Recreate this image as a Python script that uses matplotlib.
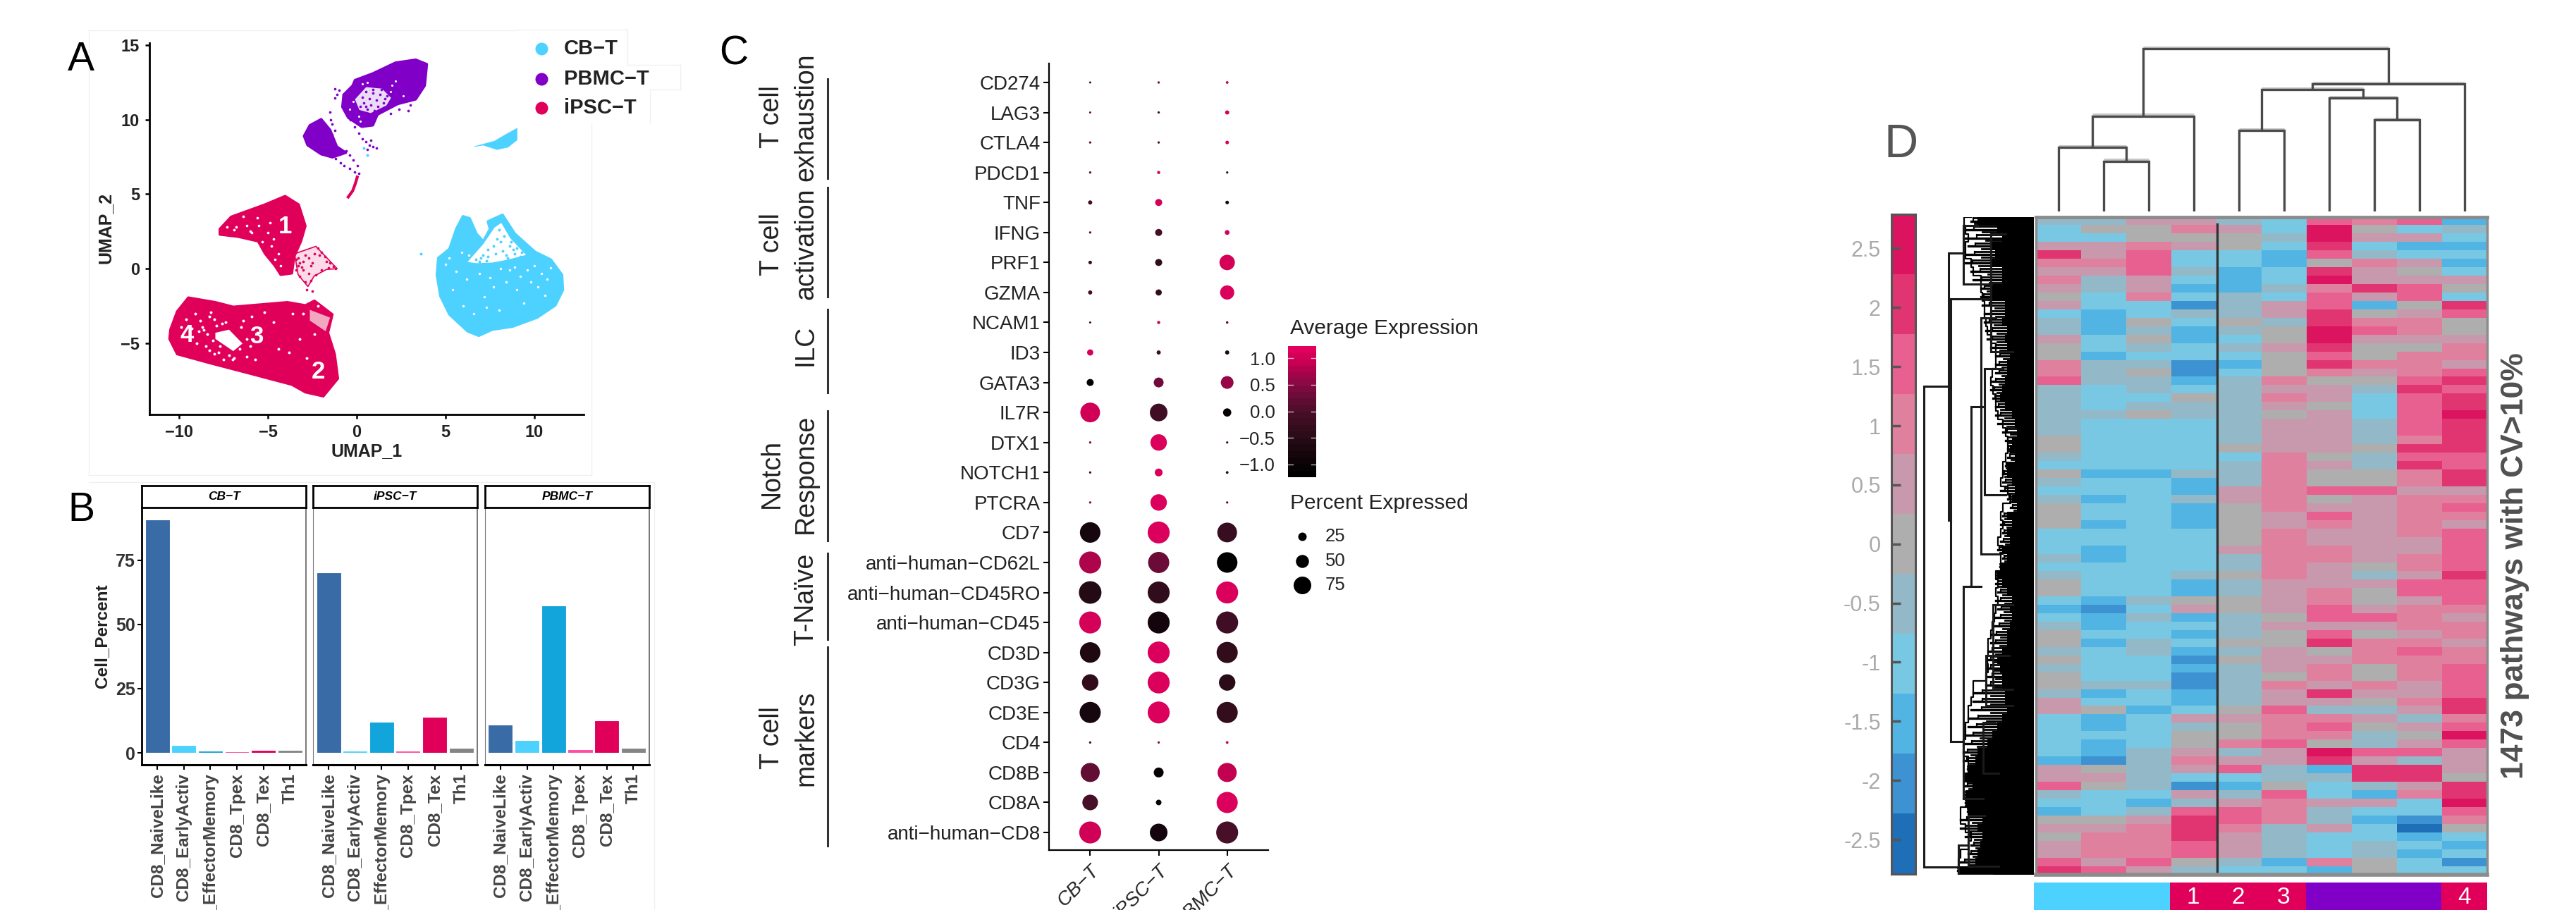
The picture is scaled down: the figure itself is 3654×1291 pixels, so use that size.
import numpy as np
import matplotlib
matplotlib.use('Agg')
import matplotlib.pyplot as plt
from matplotlib.colors import ListedColormap, LinearSegmentedColormap

plt.rcParams['font.family'] = ['Liberation Sans', 'DejaVu Sans']

W, H = 3655, 1291

CYAN = '#4DD2FF'
PURPLE = '#8000C8'
RED = '#E0005A'

# panel A outlines and sparse points
cb_x = [5.98, 6.36, 6.74, 7.12, 7.50, 7.38, 8.21, 8.90, 10.04, 10.93, 11.56, 11.61, 11.18, 10.16, 8.77, 7.63, 6.87, 6.24, 5.22, 4.71, 4.51, 4.59, 5.22, 5.60]
cb_y = [3.52, 3.38, 2.35, 1.84, 2.66, 3.17, 3.62, 2.35, 1.13, 0.61, -0.41, -1.43, -2.46, -3.28, -3.89, -4.09, -4.50, -4.20, -3.07, -1.84, -0.41, 0.72, 1.33, 2.66]
cb_hole_x = [6.24, 7.12, 7.76, 8.14, 8.64, 9.53, 8.52, 7.63, 6.74]
cb_hole_y = [0.45, 1.64, 2.76, 3.07, 2.05, 0.92, 0.61, 0.41, 0.37]
cb_small_x = [6.62, 7.76, 8.40, 9.03, 9.03, 8.52, 7.89, 7.12]
cb_small_y = [8.19, 8.56, 9.01, 9.42, 8.64, 8.15, 7.99, 8.29]
cb_dots_x = [3.6, 7.9, 8.2, 8.6, 7.4, 8.9, 7.0, 8.0, 9.2, 6.7, 0.0, 0.6, 0.4, 7.7, 8.4, 9.0, 6.6, 7.1, 7.4, 7.8, 8.3, 8.7, 7.3, 8.1, 6.9, 9.3, 8.8, 8.5]
cb_dots_y = [1.0, 2.0, 1.2, 1.5, 0.8, 1.0, 0.7, 2.6, 0.8, 0.6, 6.2, 7.6, 8.1, 1.5, 0.9, 1.4, 1.2, 0.9, 1.3, 1.0, 2.2, 1.8, 0.55, 1.8, 0.5, 1.1, 1.3, 0.7]
cb_gap_x = [9.6, 8.9, 10.4, 7.5, 8.1, 6.0, 5.4, 9.0, 10.6, 7.2, 8.4, 5.6, 10.0, 9.4, 8.0, 6.6, 5.9, 5.2, 6.3, 6.9, 7.7, 8.6, 9.8, 10.2, 10.9, 5.0, 6.2, 7.3, 9.2, 10.7]
cb_gap_y = [-0.1, 0.1, -0.3, -0.6, 0.0, -2.5, -1.4, -1.4, -1.8, -1.9, -0.9, -0.2, 0.2, -2.3, -2.8, -3.0, 1.1, 0.7, 0.9, -0.3, -1.2, -0.1, -0.9, -1.2, 0.05, 0.3, -0.7, -2.6, -0.5, -0.7]

pbmc_x = [-0.10, 0.91, 2.18, 3.32, 3.95, 3.83, 3.32, 2.31, 1.17, 0.91, 0.28, -0.48, -0.81, -0.74, -0.23]
pbmc_y = [12.65, 13.10, 13.82, 14.02, 13.72, 12.28, 11.36, 11.05, 10.34, 9.62, 9.52, 10.13, 10.85, 11.67, 12.28]
pbmc_hole_x = [0.53, 1.42, 1.93, 1.67, 0.79, 0.15, -0.10]
pbmc_hole_y = [12.18, 12.08, 11.46, 10.95, 10.44, 10.65, 11.36]
pbmc_lobe_x = [-2.64, -2.0, -1.50, -1.12, -0.61, -1.37, -2.0, -2.77, -2.97]
pbmc_lobe_y = [9.62, 10.03, 9.31, 8.19, 7.78, 7.47, 7.68, 8.29, 8.90]
pbmc_dots_x = [-1.24, -0.99, -1.12, -0.74, -1.24, -1.5, -1.45, -1.4, -1.25, -1.4, -1.3, -1.2, -0.35, -0.1, 0.1, 0.3, 0.5, 0.7, 0.9, 1.1, 0.8, 0.6,
               -1.2, -0.9, -0.7, -0.4, -0.1, 0.05, 0.1, -0.4, -0.6, -0.2, 2.4, 2.9, 3.0, 1.9,
               0.5, 0.9, 1.3, 1.6, 0.3, 0.7, 1.1, 1.5, 0.4, 0.8, 1.2, 0.6, 1.0, 0.2, 1.7, 1.4, 0.9, 0.5]
pbmc_dots_y = [12.08, 11.98, 11.67, 11.67, 11.46, 10.5, 10.0, 9.7, 9.3, 9.0, 8.6, 8.1, 10.0, 9.5, 9.1, 8.7, 8.5, 8.3, 8.2, 8.1, 8.6, 8.0,
               7.4, 7.1, 6.9, 6.7, 6.5, 6.9, 6.4, 7.6, 7.9, 7.3, 10.7, 10.6, 11.0, 10.4,
               11.9, 11.8, 11.7, 11.4, 11.5, 11.4, 11.3, 11.1, 11.1, 11.0, 10.9, 10.7, 10.6, 10.9, 11.6, 12.0, 12.0, 10.9]
pbmc_gap_x = [-0.4, -0.2, 0.2, 0.3, 1.9, 2.2, 2.6, 0.1, 2.0, 0.6]
pbmc_gap_y = [10.7, 11.2, 9.9, 12.4, 11.9, 12.6, 11.6, 10.2, 12.3, 12.5]

ipsc1_x = [-7.71, -7.07, -5.17, -4.03, -3.27, -2.89, -3.14, -3.52, -3.65, -4.28, -4.61, -5.17, -5.55, -6.69, -7.71]
ipsc1_y = [2.66, 3.48, 4.30, 4.87, 4.30, 2.87, 1.84, 0.82, -0.31, -0.41, 0.20, 1.02, 1.84, 2.15, 2.29]
ipsc2_x = [-10.49, -10.11, -9.48, -7.96, -6.95, -3.90, -2.89, -2.38, -1.37, -1.62, -1.24, -1.06, -1.88, -2.89, -3.65, -5.93, -8.21, -10.11, -10.54]
ipsc2_y = [-4.09, -2.87, -1.94, -2.25, -2.56, -2.25, -2.46, -2.15, -3.07, -4.30, -5.73, -7.37, -8.56, -8.29, -7.78, -7.06, -6.35, -5.73, -4.71]
ipsc_hole_x = [-7.96, -7.19, -6.43, -6.95, -7.96]
ipsc_hole_y = [-4.30, -4.09, -5.02, -5.53, -4.71]
ipsc_thin_x = [-2.64, -1.5, -1.75, -2.64]
ipsc_thin_y = [-2.76, -3.28, -4.2, -3.48]
ipsc_tail_edge_x = [-3.5, -2.3, -1.1, -1.7, -2.4, -2.75, -3.3]
ipsc_tail_edge_y = [1.0, 1.5, 0.0, -0.05, -0.5, -1.2, -0.4]
ipsc_tail_x = [-3.4, -3.0, -2.7, -2.4, -2.2, -2.0, -1.8, -1.5, -1.2, -1.6, -2.0, -2.3, -2.6, -2.9, -3.2, -3.0, -2.6, -2.8, -2.5, -1.3, -1.7, -2.1, -3.3, -2.9, -3.1, -2.5, -3.4, -3.2, -2.7, -3.3]
ipsc_tail_y = [0.6, 0.5, 0.7, 1.0, 1.4, 1.1, 0.8, 0.4, 0.0, 0.05, -0.1, -0.4, -0.8, -0.9, -0.5, -0.1, 0.2, -1.4, -1.5, 0.15, 0.5, 0.9, 0.2, 0.9, 0.1, 0.4, -0.1, 0.4, -0.3, 0.7]
ipsc_thread_x = [0.03, -0.08, -0.23, -0.48]
ipsc_thread_y = [6.14, 5.70, 5.22, 4.81]
ipsc_gap_x = [-9.1, -8.7, -8.3, -8.5, -9.0, -5.9, -5.2, -4.7, -3.6, -6.4, -8.0, -7.6, -5.6, -6.9, -8.9, -3.2, -9.6, -4.4, -8.2, -5.7, -6.2, -7.5, -3.8, -2.8,
              -8.4, -8.1, -8.6, -7.9, -8.3, -7.7, -7.2, -6.6, -6.2, -7.4, -8.8, -9.3, -7.0, -6.5, -7.8, -8.0, -6.0, -9.9, -3.0, -2.4, -2.2]
ipsc_gap_y = [-3.0, -3.9, -3.2, -5.2, -5.0, -3.2, -2.9, -3.6, -3.0, -3.5, -5.7, -3.7, -4.3, -6.0, -4.2, -4.7, -3.4, -5.4, -2.9, -6.1, -5.9, -6.1, -5.6, -6.0,
              -4.4, -4.8, -4.1, -3.8, -5.5, -5.2, -5.8, -5.4, -4.7, -3.6, -3.5, -4.0, -6.1, -3.9, -5.6, -3.4, -5.2, -3.9, -3.0, -4.4, -2.5]
ipsc1_gap_x = [-6.2, -5.6, -5.0, -6.8, -4.8, -4.4, -5.9, -4.9, -4.6, -6.4, -6.0, -5.3, -4.7, -6.9, -7.3, -5.5, -4.3]
ipsc1_gap_y = [2.9, 3.4, 2.4, 2.8, 1.5, 1.0, 2.4, 3.1, 0.6, 3.5, 2.5, 1.8, 2.0, 2.6, 2.8, 2.9, 0.2]

legend_names = ['CB\u2212T', 'PBMC\u2212T', 'iPSC\u2212T']
legend_colors = [CYAN, PURPLE, RED]
cluster_names = ['1', '2', '3', '4']
cluster_x = [-4.03, -2.18, -5.63, -9.56]
cluster_y = [2.82, -6.92, -4.56, -4.46]

# panel B
subtypes = ['CD8_NaiveLike', 'CD8_EarlyActiv', 'CD8_EffectorMemory', 'CD8_Tpex', 'CD8_Tex', 'Th1']
subtype_colors = ['#396CA6', CYAN, '#12A5DC', '#FF4DA6', RED, '#858585']
facets = ['CB\u2212T', 'iPSC\u2212T', 'PBMC\u2212T']
cb_percent = [90.9, 2.9, 0.8, 0.5, 1.0, 1.0]
ipsc_percent = [70.4, 0.9, 12.1, 0.9, 14.1, 2.0]
pbmc_percent = [10.9, 5.0, 57.4, 1.4, 12.6, 2.0]

# panel C
genes = ['CD274', 'LAG3', 'CTLA4', 'PDCD1', 'TNF', 'IFNG', 'PRF1', 'GZMA', 'NCAM1', 'ID3', 'GATA3', 'IL7R', 'DTX1',
         'NOTCH1', 'PTCRA', 'CD7', 'anti\u2212human\u2212CD62L', 'anti\u2212human\u2212CD45RO', 'anti\u2212human\u2212CD45',
         'CD3D', 'CD3G', 'CD3E', 'CD4', 'CD8B', 'CD8A', 'anti\u2212human\u2212CD8']
pct_cb = [0, 0, 1, 1, 10, 1, 7, 10, 0, 20, 24, 86, 1, 1, 1, 90, 97, 100, 97, 90, 70, 93, 1, 83, 66, 97]
pct_ipsc = [1, 1, 1, 5, 24, 24, 24, 20, 5, 10, 38, 76, 70, 28, 70, 97, 93, 97, 97, 97, 97, 97, 1, 38, 17, 76]
pct_pbmc = [3, 10, 7, 1, 7, 13, 65, 59, 2, 10, 52, 30, 1, 3, 1, 86, 90, 97, 97, 93, 70, 93, 3, 83, 93, 97]
avg_cb = [-0.2, 0.2, 0.2, 0.0, -0.2, 0.1, -0.3, -0.1, -0.3, 1.1, -1.2, 1.05, 0.4, -0.2, 0.5, -0.85, 0.8, -0.6, 1.1, -0.7, -0.4, -0.85, -0.2, 0.2, -0.05, 1.05]
avg_ipsc = [0.3, -0.2, -0.1, 1.1, 1.1, -0.1, -0.4, -0.4, 1.05, -0.2, 0.35, -0.15, 1.15, 1.15, 1.15, 1.15, 0.3, -0.4, -0.9, 1.15, 1.15, 1.15, 0.5, -1.15, -1.1, -0.9]
avg_pbmc = [1.0, 1.1, 1.1, -0.5, -0.8, 1.1, 1.1, 1.15, 0.2, -0.7, 0.65, -1.15, -0.1, -0.5, 0.3, -0.3, -1.2, 1.15, -0.15, -0.4, -0.5, -0.35, 1.05, 0.95, 1.15, -0.05]
samples = ['CB\u2212T', 'iPSC\u2212T', 'PBMC\u2212T']
legend_pct = [25, 50, 75]
legend_avg = [1.0, 0.5, 0.0, -0.5, -1.0]

# panel D, colour level of each row band per sample column (-5..5, 0.5 per level)
heat_rows = [
    [-1, -1, 1, 1, -1, -2, 3, 2, 3, -3], [-2, 0, 0, 2, 1, -2, 5, 0, -2, -1], [-2, -2, 0, 0, 0, -1, 5, 1, 1, -2],
    [1, 1, 2, 1, 0, -2, 4, -2, -3, -3], [4, 1, 3, -2, -2, -3, 3, -1, -2, -2], [2, 2, 3, -2, -2, -3, 0, 2, 1, -3],
    [1, 1, 3, -1, -3, -2, 4, 1, 0, -2], [2, -1, 1, -2, -3, -2, 5, 1, 1, 1], [1, -1, 1, -3, -3, -1, 2, 4, 3, 0],
    [0, -2, 2, -2, -1, -2, 3, 1, 3, -2], [1, -2, -2, -4, -1, 1, 3, -3, 0, 4], [-2, -3, -2, -1, -1, 1, 4, 0, 1, 3],
    [-1, -3, 0, -2, 0, -1, 4, 2, 2, 0], [-1, -3, -1, -3, -1, 0, 5, 3, 2, 0], [1, -2, 0, -3, -2, 0, 5, 1, 1, 1],
    [0, -2, -1, -2, -1, 1, 4, 0, 0, 2], [0, -3, -2, -2, -2, 0, 3, 0, 2, 2], [2, -1, -1, -4, -3, 0, 4, 2, 2, 1],
    [2, -1, 0, -4, -2, 0, 2, 1, 2, 3], [3, -1, -1, -3, -1, 2, 0, 0, 3, 4], [-1, -2, -1, -2, -1, 1, 1, -1, 4, 3],
    [-1, -2, -2, 0, -1, 2, 1, -2, 3, 4], [-1, -2, -1, -1, -1, 1, 0, -2, 3, 4], [-1, -1, 0, -1, -1, 0, 1, -2, 3, 5],
    [-1, -2, -2, -2, -1, 1, 1, -1, 3, 4], [-1, -2, -2, -2, -1, 1, 1, -1, 3, 4], [0, -2, -2, -2, -1, 1, 1, -1, 2, 4],
    [0, -2, -2, -2, 0, 1, 1, 0, 4, 4], [-1, -2, -2, -2, -2, 2, 0, -1, 3, 3], [-2, -2, -2, -2, -1, 2, 1, -1, 4, 3],
    [0, -3, -3, -1, -1, 2, 0, 0, 2, 4], [-1, -2, -2, -3, -1, 2, 0, 0, 2, 4], [-2, -2, -2, -3, 1, 2, 3, 3, 1, 1],
    [-1, -3, -2, -1, 1, 2, 0, 1, 2, 2], [0, -2, -2, -3, 0, 2, 1, 1, 2, 3], [0, -2, -2, -3, 0, 1, 3, 1, 2, 2],
    [0, -3, -2, -3, 0, 1, 2, 1, 2, 1], [-2, -2, -2, -2, 0, 2, 1, 1, 2, 3], [-2, -2, -2, -2, 0, 2, 1, 1, 1, 3],
    [-2, -3, -2, -2, 1, 2, 2, 1, 1, 3], [-1, -3, -2, -2, -1, 2, 2, 1, 2, 3], [-2, -2, -2, -2, -1, 2, 1, 0, 2, 3],
    [-1, -2, -2, -1, 0, 2, 1, -1, 1, 4], [0, -2, -2, -3, -1, 1, 1, 1, 3, 3], [0, -2, -2, -3, -1, 1, 2, 0, 3, 3],
    [-2, -3, -1, 0, 0, 1, 2, 0, 1, 3], [-3, -4, -2, 1, 0, 1, 3, 1, 2, 2], [-2, -3, -1, -3, -1, 0, 3, 3, 2, 1],
    [-1, -3, -2, -2, -1, 1, 1, 1, 2, 2], [0, -2, -2, -3, -1, 0, 3, 0, 1, 2], [0, -3, -1, -2, 0, 0, 4, 2, 2, 1],
    [-1, -2, -1, -3, -1, 1, 0, 2, 3, 2], [0, -2, -2, -4, 0, 1, 1, 2, 2, 2], [-1, -2, -2, -3, -1, 1, 2, 0, 2, 3],
    [0, -2, -2, -4, -1, 0, 2, 0, 2, 3], [0, -1, -1, -4, -1, 2, 1, 2, 1, 3], [-1, -3, -2, -3, -1, 1, 4, 1, 1, 3],
    [1, -2, -2, -3, -1, 1, 1, 0, 2, 4], [1, 0, -3, -2, 0, 3, -1, -1, 1, 4], [-2, -3, -2, 1, 1, 2, 2, 1, -1, 2],
    [-2, -3, -2, -1, 0, 2, 3, 0, 1, 3], [-2, -2, -2, 0, 0, 2, 2, -1, 0, 5], [-2, -3, -2, 0, 2, 3, 0, -1, 1, 3],
    [-2, -3, -1, 1, -1, 1, 5, 3, 3, 1], [-3, -4, -1, 2, 1, 1, 4, 1, -1, 1], [1, 0, -1, 1, 3, -1, -3, 4, 4, 1],
    [1, 1, -1, -2, -2, -1, -1, 4, 4, 0], [3, 0, -1, -4, -3, 0, -2, -1, 1, 4], [-1, -2, -2, 1, -1, 3, -2, -3, 2, 4],
    [-2, -2, -3, -1, 1, 2, 1, 1, -2, 5], [-3, -2, -1, 3, 3, 2, -1, -2, -2, 3], [0, 0, 1, 4, 3, 2, -1, -3, -4, 2],
    [1, 1, 2, 4, 2, -1, 1, -2, -5, 0], [0, 2, 2, 4, 1, -1, -2, -2, -3, -2], [1, 2, 2, 3, 1, -1, -2, -1, -2, -3],
    [1, 2, 2, 3, 1, -1, -2, -1, -3, -2], [3, 1, 3, 0, -1, -3, 2, 0, -2, -4], [4, 3, 1, -1, -2, -2, -3, 0, -2, -2],
]
level_colors = ['#1E6EB8', '#3D92D2', '#52B4E2', '#78C8E4', '#93B9C8', '#AEAEAE', '#C899AC', '#E0809F', '#E8608F', '#E03570', '#DC1460']
key_ticks = [2.5, 2, 1.5, 1, 0.5, 0, -0.5, -1, -1.5, -2, -2.5]
key_labels = ['2.5', '2', '1.5', '1', '0.5', '0', '-0.5', '-1', '-1.5', '-2', '-2.5']
col_groups = [0, 0, 0, 1, 1, 1, 2, 2, 2, 3]
group_colors = [CYAN, RED, PURPLE, RED]
group_labels = ['1', '2', '3', '4']
group_label_cols = [3, 4, 5, 9]

# sample dendrogram: left node, right node, height; new nodes are numbered from 10
col_merges = [(1, 2, 30.9), (0, 10, 39.2), (11, 3, 58.6), (4, 5, 49.7), (7, 8, 56.4),
              (6, 14, 69.7), (13, 15, 74.8), (16, 9, 78.3), (12, 17, 100)]

# pathway dendrogram: depth, top row, bottom row, depth of the top child, depth of the bottom child
row_brackets = [(156, 20.1, 77.1, 121, 107), (121, 4.3, 36, 100, 118), (118, 9.7, 62.2, 61, 100),
                (100, 1, 8, 80, 60), (100, 43.8, 69, 89, 72), (89, 22.5, 43.8, 70, 75),
                (75, 12, 40, 54, 50), (70, 18, 33, 44, 40), (107, 74.5, 78, 93, 60), (93, 71, 77, 70, 50),
                (72, 60, 66, 55, 50), (61, 2, 16, 40, 30), (58, 46, 56, 30, 30), (68, 52, 58, 35, 30)]
row_solid = [80, 52, 45, 59, 55, 62, 45, 45, 59, 62, 41, 41, 45, 38, 41, 38, 34, 38, 38, 41,
             45, 48, 41, 31, 27, 24, 31, 34, 27, 38, 38, 31, 27, 31, 24, 38, 31, 38, 34, 45,
             38, 48, 52, 45, 38, 31, 34, 31, 34, 38, 38, 45, 52, 48, 45, 45, 41, 41, 38, 45,
             52, 59, 66, 80, 83, 94, 97, 87, 97, 97, 94, 73, 80, 73, 76, 80, 83, 108]
row_twig = [89, 99, 97, 93, 97, 97, 89, 86, 75, 75, 73, 70, 70, 68, 66, 61, 54, 54, 54, 59,
            61, 58, 54, 54, 51, 44, 40, 37, 37, 40, 44, 44, 47, 37, 33, 44, 47, 44, 47, 51,
            44, 47, 47, 54, 51, 54, 51, 54, 56, 59, 61, 65, 65, 66, 65, 68, 86, 86, 89, 93,
            93, 97, 97, 100, 100, 93, 93, 97, 72, 86, 93, 104, 104, 97, 89, 93, 104, 107]


def px_axes(x0, y0, x1, y1):
    return fig.add_axes([x0 / W, 1 - y1 / H, (x1 - x0) / W, (y1 - y0) / H])


def dot_size(d_px):
    return (np.asarray(d_px) * 0.72) ** 2


def blob(axis, xs, ys, color, lw=2.5):
    axis.fill(xs, ys, facecolor=color, edgecolor=color, lw=lw, joinstyle='round')


fig = plt.figure(figsize=(W / 100, H / 100), dpi=100, facecolor='white')

# ---- A ----
ax = px_axes(212, 61, 828, 588)
blob(ax, cb_x, cb_y, CYAN)
ax.fill(cb_hole_x, cb_hole_y, color='white', lw=0)
blob(ax, cb_small_x, cb_small_y, CYAN, lw=0.5)
ax.scatter(cb_dots_x, cb_dots_y, s=8, color=CYAN, lw=0)
ax.scatter(cb_gap_x, cb_gap_y, s=6, color='white', lw=0)
blob(ax, pbmc_x, pbmc_y, PURPLE)
ax.fill(pbmc_hole_x, pbmc_hole_y, color='#eadcf7', lw=0)
blob(ax, pbmc_lobe_x, pbmc_lobe_y, PURPLE)
ax.scatter(pbmc_dots_x, pbmc_dots_y, s=7, color=PURPLE, lw=0)
ax.scatter(pbmc_gap_x, pbmc_gap_y, s=5, color='white', lw=0)
ax.fill(ipsc_tail_edge_x, ipsc_tail_edge_y, facecolor='#fbdbe7', edgecolor=RED, lw=1.2)
blob(ax, ipsc1_x, ipsc1_y, RED)
blob(ax, ipsc2_x, ipsc2_y, RED)
ax.fill(ipsc_thin_x, ipsc_thin_y, color='#f2a6c0', lw=0)
ax.fill(ipsc_hole_x, ipsc_hole_y, color='white', lw=0)
ax.scatter(ipsc_tail_x, ipsc_tail_y, s=7, color=RED, lw=0)
ax.plot(ipsc_thread_x, ipsc_thread_y, color=RED, lw=3)
ax.scatter(ipsc_gap_x, ipsc_gap_y, s=8, color='white', lw=0)
ax.scatter(ipsc1_gap_x, ipsc1_gap_y, s=7, color='white', lw=0)
for name, cx0, cy0 in zip(cluster_names, cluster_x, cluster_y):
    ax.text(cx0, cy0, name, color='white', fontsize=25, fontweight='bold', ha='center', va='center')
ax.set_xlim(-11.67, 12.78)
ax.set_ylim(-9.78, 15.14)
ax.set_xticks([-10, -5, 0, 5, 10])
ax.set_yticks([-5, 0, 5, 10, 15])
for lab in ax.get_xticklabels() + ax.get_yticklabels():
    lab.set_fontweight('bold')
ax.tick_params(labelsize=17, length=4, width=1.8, labelcolor='#222222', pad=6)
for s in ['top', 'right']:
    ax.spines[s].set_visible(False)
for s in ['left', 'bottom']:
    ax.spines[s].set_linewidth(2)
ax.patch.set_alpha(0)

# ---- B ----
facet_px = [(201.5, 433.7), (444.5, 676.6), (688, 921)]
percents = [cb_percent, ipsc_percent, pbmc_percent]
for i, (x0, x1) in enumerate(facet_px):
    bx = px_axes(x0, 720, x1, 1085)
    pos = np.arange(1, len(subtypes) + 1)
    bx.bar(pos, percents[i], width=0.93, color=subtype_colors, edgecolor='white', linewidth=0.8)
    bx.set_xlim(0.42, 6.6)
    bx.set_ylim(-4.67, 95.6)
    bx.set_xticks(pos)
    bx.set_xticklabels(subtypes, rotation=90, ha='center', va='top', fontsize=17.5, fontweight='bold', color='#444444')
    bx.tick_params(axis='x', length=5, width=1.5, pad=4)
    bx.set_yticks([0, 25, 50, 75])
    if i == 0:
        bx.set_yticklabels(['0', '25', '50', '75'], fontsize=18, fontweight='bold', color='#333333')
        bx.tick_params(axis='y', length=4, width=1.5, pad=3)
        bx.spines['left'].set_color('black')
        bx.spines['left'].set_linewidth(2)
    else:
        bx.tick_params(axis='y', length=0, labelleft=False)
        bx.spines['left'].set_color('#777777')
    for s in ['top', 'right']:
        bx.spines[s].set_color('#777777')
        bx.spines[s].set_linewidth(1.4)
    bx.spines['bottom'].set_linewidth(2.2)
    st = px_axes(x0, 688.6, x1, 719.5)
    st.set_xticks([])
    st.set_yticks([])
    for s in st.spines.values():
        s.set_linewidth(2)
    st.text(0.5, 0.5, facets[i], transform=st.transAxes, ha='center', va='center',
            fontsize=12.5, fontweight='bold', fontstyle='italic')

# ---- C ----
expr_cmap = LinearSegmentedColormap.from_list('expr', [(0, '#000000'), (0.3, '#2a0c18'), (0.5, '#4a0f29'),
                                                       (0.7, '#800a42'), (0.9, '#c80052'), (1, '#e2005f')])
cx = px_axes(1488.4, 90.4, 1799, 1205.7)
ypos = np.arange(len(genes) - 1, -1, -1)
for col, (pct, avg) in enumerate([(pct_cb, avg_cb), (pct_ipsc, avg_ipsc), (pct_pbmc, avg_pbmc)]):
    diam = 3 + 0.29 * np.array(pct)
    cx.scatter(np.full(len(genes), col + 1), ypos, s=dot_size(diam), c=avg, cmap=expr_cmap, vmin=-1.24, vmax=1.23, lw=0)
cx.set_xlim(0.403, 3.6)
cx.set_ylim(-0.58, len(genes) - 1 + 0.625)
cx.set_yticks(ypos)
cx.set_yticklabels(genes, fontsize=20, color='#222222')
cx.set_xticks([1, 2, 3])
cx.set_xticklabels(samples, rotation=45, ha='right', rotation_mode='anchor', fontsize=20, fontstyle='italic', color='#222222')
cx.tick_params(axis='y', length=6, width=1.5, pad=3)
cx.tick_params(axis='x', length=6, width=1.5, pad=6)
for s in ['top', 'right']:
    cx.spines[s].set_visible(False)
for s in ['left', 'bottom']:
    cx.spines[s].set_linewidth(1.6)
cx.patch.set_alpha(0)

cbar = px_axes(1827, 491, 1867, 677)
grad = np.linspace(1.23, -1.24, 20).reshape(-1, 1)
cbar.imshow(grad, cmap=expr_cmap, vmin=-1.24, vmax=1.23, aspect='auto', extent=[0, 1, -1.24, 1.23], interpolation='nearest')
cbar.set_xticks([])
cbar.set_yticks(legend_avg)
cbar.set_yticklabels(['1.0', '0.5', '0.0', '\u22120.5', '\u22121.0'], fontsize=18.5, color='#222222')
cbar.tick_params(axis='y', length=0, pad=13)
for v in legend_avg:
    cbar.plot([0, 0.18], [v, v], color='white', lw=1, alpha=0.7)
    cbar.plot([0.82, 1], [v, v], color='white', lw=1, alpha=0.7)
cbar.set_xlim(0, 1)
cbar.set_ylim(-1.24, 1.23)
for s in cbar.spines.values():
    s.set_visible(False)

# ---- D ----
hx = px_axes(2888, 307.6, 3528, 1240.7)
matrix = np.array(heat_rows)
hx.imshow(matrix, cmap=ListedColormap(level_colors), vmin=-5.5, vmax=5.5, aspect='auto', interpolation='nearest')
hx.plot([3.52, 3.52], [0.4, matrix.shape[0] - 0.5], color='#333333', lw=2.4)
hx.set_xlim(-0.5, 9.5)
hx.set_ylim(matrix.shape[0] - 0.5, -0.5)
hx.set_xticks([])
hx.set_yticks([])
for s in hx.spines.values():
    s.set_color('#8c8c8c')
    s.set_linewidth(2.5)
hx.spines['bottom'].set_linewidth(4)
hx.spines['top'].set_linewidth(3.5)

# sample dendrogram
dx = px_axes(2888, 60, 3528, 300)
pos_of = {i: (float(i), 0.0) for i in range(10)}
for k, (a, b, h) in enumerate(col_merges):
    xa, ha = pos_of[a]
    xb, hb = pos_of[b]
    dx.plot([xa, xb], [h + 0.9, h + 0.9], color='#c8c8c8', lw=2.2, solid_capstyle='butt')
    dx.plot([xa, xa, xb, xb], [ha, h, h, hb], color='#4a4a4a', lw=2.4, solid_joinstyle='miter', solid_capstyle='butt')
    pos_of[10 + k] = ((xa + xb) / 2, h)
dx.set_xlim(-0.5, 9.5)
dx.set_ylim(0, (300 - 60) / 231.2 * 100)
dx.axis('off')

# pathway dendrogram
rx = px_axes(2720, 307.6, 2885, 1240.7)
rows = np.arange(len(row_solid) + 1)
rx.fill_betweenx(rows, np.r_[row_solid, row_solid[-1]], 0, step='post', color='black', lw=0)
rx.step(np.r_[row_twig, row_twig[-1]], rows, where='post', color='black', lw=1.6)
for r, (t, sd) in enumerate(zip(row_twig, row_solid)):
    rx.plot([t, sd], [r + 0.5, r + 0.5], color='black', lw=2.4)
    rx.plot([t * 0.7 + sd * 0.3, sd], [r + 0.15, r + 0.15], color='black', lw=2)
    rx.plot([t * 0.45 + sd * 0.55, sd], [r + 0.82, r + 0.82], color='black', lw=2)
    rx.plot([t * 0.7 + sd * 0.3, t * 0.7 + sd * 0.3], [r + 0.15, r + 0.5], color='black', lw=1.6)
for depth, top, bot, d_top, d_bot in row_brackets:
    rx.plot([d_top, depth, depth, d_bot], [top, top, bot, bot], color='#1a1a1a', lw=2.2, solid_joinstyle='miter')
rx.set_xlim(165, 0)
rx.set_ylim(len(row_solid), 0)
rx.axis('off')

# colour key
kx = px_axes(2683, 304, 2717, 1239.5)
edges = np.arange(-5.5, 6.5) * 0.507
kx.pcolormesh([0, 1], edges, np.arange(-5, 6).reshape(-1, 1), cmap=ListedColormap(level_colors), vmin=-5.5, vmax=5.5)
kx.set_xlim(0, 1)
kx.set_ylim(edges[0], edges[-1])
kx.set_xticks([])
kx.set_yticks(key_ticks)
kx.set_yticklabels(key_labels, fontsize=22, color='#aaaaaa')
kx.tick_params(axis='y', direction='in', length=9, width=2.5, color='#555555', pad=11)
for s in kx.spines.values():
    s.set_color('#555555')
    s.set_linewidth(2.2)

# group strip
gx = px_axes(2885.5, 1252, 3528, 1291)
gx.imshow(np.array([col_groups]), cmap=ListedColormap(group_colors), vmin=-0.5, vmax=3.5, aspect='auto', interpolation='nearest')
for col, name in zip(group_label_cols, group_labels):
    gx.text(col, 0.05, name, color='white', fontsize=24, ha='center', va='center')
gx.axis('off')

# ---- text and lines placed on the page ----
ov = fig.add_axes([0, 0, 1, 1], zorder=10)
ov.set_xlim(0, W)
ov.set_ylim(H, 0)
ov.axis('off')

for xs, ys in [([126, 126], [43, 674]), ([126, 839], [674, 674]), ([839, 839], [175, 674]), ([126, 733], [43, 43]),
               ([733, 890], [42, 42]), ([890, 890], [42, 92]), ([890, 965], [92, 92]), ([965, 965], [92, 127]),
               ([922, 965], [127, 127]), ([922, 922], [127, 175]), ([126, 928], [684, 684]), ([928, 928], [684, 1291])]:
    ov.plot(xs, ys, color='#f0f0f0', lw=1)

for letter, lx, ly, size, col in [('A', 115, 85, 41, 'black'), ('B', 115, 724, 41, 'black'), ('C', 1041, 77, 41, 'black'), ('D', 2697, 206, 48, '#555555')]:
    ov.text(lx, ly, letter, fontsize=size, color=col, ha='center', va='center')

ov.text(520, 640, 'UMAP_1', fontsize=18, fontweight='bold', color='#222222', ha='center', va='center')
ov.text(150, 323, 'UMAP_2', fontsize=18, fontweight='bold', color='#222222', ha='center', va='center', rotation=90)
ov.text(145, 902, 'Cell_Percent', fontsize=17.5, fontweight='bold', color='#222222', ha='center', va='center', rotation=90)
for name, col, ly in zip(legend_names, legend_colors, [69, 112, 153]):
    ov.scatter([768], [ly], s=dot_size(18), color=col, lw=0)
    ov.text(800, ly, name, fontsize=21, fontweight='bold', color='#222222', ha='left', va='center')

for y0, y1 in [(111.6, 253), (265.5, 421), (439.4, 556.5), (583, 766.6), (784.7, 906.7), (917.5, 1200.4)]:
    ov.plot([1174.5, 1174.5], [y0, y1], color='#333333', lw=2.2)
group_text = [('T cell', 1095, 166), ('exhaustion', 1143, 166), ('T cell', 1095, 347), ('activation', 1143, 346),
              ('ILC', 1143, 490), ('Notch', 1095, 672), ('Response', 1143, 672), ('T-Na\u00efve', 1143, 850),
              ('T cell', 1095, 1047), ('markers', 1143, 1047)]
for txt, tx, ty in group_text:
    ov.text(tx, ty, txt, fontsize=27, color='#222222', rotation=90, ha='center', va='center')

ov.text(1830, 466, 'Average Expression', fontsize=21.5, color='#222222', ha='left', va='center')
ov.text(1830, 714, 'Percent Expressed', fontsize=21.5, color='#222222', ha='left', va='center')
for p, ly in zip(legend_pct, [761.4, 796, 830]):
    ov.scatter([1847], [ly], s=dot_size(5.5 + 0.26 * p), color='black', lw=0)
    ov.text(1880, ly, str(p), fontsize=18.5, color='#222222', ha='left', va='center')

ov.text(3568, 803, '1473 pathways with CV>10%', fontsize=32, fontweight='bold', color='#505050', rotation=90, ha='center', va='center')

fig.savefig('out.png', dpi=100, facecolor='white')
